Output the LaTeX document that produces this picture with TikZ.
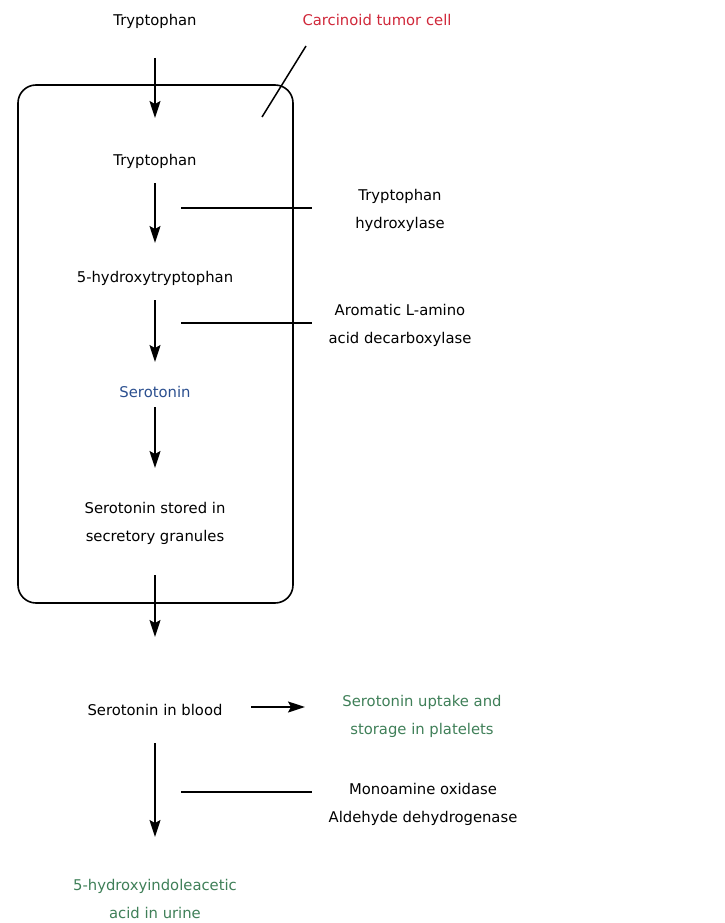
\documentclass[tikz,border=0pt]{standalone}
\usepackage{fontspec}
\setmainfont{DejaVu Sans}
\usetikzlibrary{arrows.meta}
\definecolor{tred}{HTML}{D0283A}
\definecolor{tblue}{HTML}{2B4F8F}
\definecolor{tgreen}{HTML}{3F7F58}
\begin{document}
\begin{tikzpicture}[x=1pt,y=-1pt,
  lbl/.style={font=\fontsize{14.8}{28}\selectfont, align=center, inner sep=0pt, text depth=0pt},
  flow/.style={line width=1.6pt, -{Stealth[length=17pt,width=11pt,inset=3pt]}},
  enz/.style={line width=1.5pt}]
\useasboundingbox (0,0) rectangle (725,923);
\draw[line width=1.6pt, rounded corners=18pt] (18,85) rectangle (293,603);
\node[lbl] (t0) at (155,20) {Tryptophan};
\node[lbl, text=tred] (cc) at (377,20) {Carcinoid tumor cell};
\coordinate (s1) at (306,46);
\coordinate (s2) at (262,117);
\draw[enz] (s1) -- (s2);
\node[lbl] (t1) at (155,160) {Tryptophan};
\node[lbl] (h5) at (155,277) {5-hydroxytryptophan};
\node[lbl, text=tblue] (se) at (155,392) {Serotonin};
\node[lbl] (sg) at (155,522) {Serotonin stored in\\secretory granules};
\node[lbl] (sb) at (155,710) {Serotonin in blood};
\node[lbl, text=tgreen] (pl) at (422,715) {Serotonin uptake and\\storage in platelets};
\node[lbl, text=tgreen] (hi) at (155,899) {5-hydroxyindoleacetic\\acid in urine};
\node[lbl] (e1) at (400,209) {Tryptophan\\hydroxylase};
\node[lbl] (e2) at (400,324) {Aromatic L-amino\\acid decarboxylase};
\node[lbl] (e3) at (423,803) {Monoamine oxidase\\Aldehyde dehydrogenase};
\coordinate (a0s) at (155,58); \coordinate (a0e) at (155,118);
\coordinate (a1s) at (155,183); \coordinate (a1e) at (155,243);
\coordinate (a2s) at (155,300); \coordinate (a2e) at (155,362);
\coordinate (a3s) at (155,407); \coordinate (a3e) at (155,468);
\coordinate (a4s) at (155,575); \coordinate (a4e) at (155,637);
\coordinate (a5s) at (155,743); \coordinate (a5e) at (155,837);
\coordinate (bs) at (251,707); \coordinate (be) at (305,707);
\draw[flow] (a0s) -- (a0e);
\draw[flow] (a1s) -- (a1e);
\draw[flow] (a2s) -- (a2e);
\draw[flow] (a3s) -- (a3e);
\draw[flow] (a4s) -- (a4e);
\draw[flow] (a5s) -- (a5e);
\draw[flow] (bs) -- (be);
\coordinate (l1a) at (181,208); \coordinate (l1b) at (312,208);
\coordinate (l2a) at (181,323); \coordinate (l2b) at (312,323);
\coordinate (l3a) at (181,792); \coordinate (l3b) at (312,792);
\draw[enz] (l1a) -- (l1b);
\draw[enz] (l2a) -- (l2b);
\draw[enz] (l3a) -- (l3b);
\end{tikzpicture}
\end{document}
